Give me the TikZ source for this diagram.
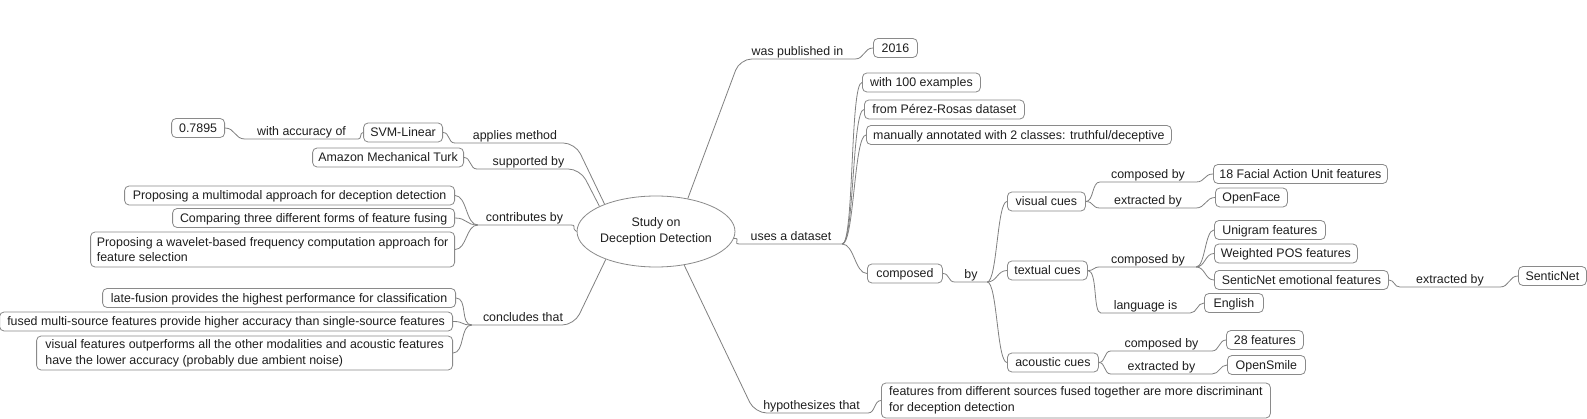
\documentclass[tikz,border=0pt]{standalone}
\usepackage{fontspec}
\setmainfont{Liberation Sans}
\usetikzlibrary{shapes.geometric}
\definecolor{linegray}{HTML}{808080}
\definecolor{boxgray}{HTML}{8A8A8A}
\definecolor{txt}{HTML}{1E1E1E}
\begin{document}
\begin{tikzpicture}[x=1pt,y=-1pt,
  font=\fontsize{12.4}{15.6}\selectfont,
  box/.style={draw=boxgray, rounded corners=4.5, fill=white, line width=0.8pt,
    inner xsep=2, inner ysep=0, minimum height=19, text height=11, text depth=2.2, text=txt},
  boxtwo/.style={draw=boxgray, rounded corners=4.5, fill=white, line width=0.8pt,
    inner xsep=2, inner ysep=0, align=left, text=txt},
  lbl/.style={inner xsep=0, inner ysep=1, text height=9, text depth=2.6, anchor=south, text=txt},
  conn/.style={draw=linegray, line width=0.8pt},
  rc/.style={conn, rounded corners=12}]
\fill[white] (0,0) rectangle (1587,419);
\useasboundingbox (0,0) rectangle (1587,419);

% centre
\node[ellipse, draw=boxgray, line width=0.8pt, minimum width=134, minimum height=71,
  inner sep=0, align=center, text=txt] (c) at (656,231.5) {Study on\\Deception Detection};

% left boxes
\node[box, anchor=east, minimum width=53] (acc) at (225,128) {0.7895};
\node[box, anchor=east, minimum width=79] (svm) at (443,132.5) {SVM-Linear};
\node[box, anchor=east, minimum width=151] (amt) at (464,157.5) {Amazon Mechanical Turk};
\node[box, anchor=east, minimum width=330] (c1) at (455,195.5) {Proposing a multimodal approach for deception detection};
\node[box, anchor=east, minimum width=282] (c2) at (455,218) {Comparing three different forms of feature fusing};
\node[boxtwo, anchor=east, minimum width=364, minimum height=35] (c3) at (455,249.5) {Proposing a wavelet-based frequency computation approach for\\feature selection};
\node[box, anchor=east, minimum width=353] (k1) at (456,298) {late-fusion provides the highest performance for classification};
\node[box, anchor=east, minimum width=453] (k2) at (453,321.5) {fused multi-source features provide higher accuracy than single-source features};
\node[boxtwo, anchor=east, minimum width=416, minimum height=34] (k3) at (453,353) {visual features outperforms all the other modalities and acoustic features\\have the lower accuracy (probably due ambient noise)};

% left labels
\node[lbl, minimum width=113] (lacc) at (301.5,139) {with accuracy of};
\node[lbl, minimum width=120] (lapp) at (515,143) {applies method};
\node[lbl, minimum width=103] (lsup) at (528.5,169) {supported by};
\node[lbl, minimum width=93] (lcon) at (524.5,225) {contributes by};
\node[lbl, minimum width=102] (lclu) at (523,325) {concludes that};

% right labels
\node[lbl, minimum width=115] (lpub) at (797.5,59) {was published in};
\node[lbl, minimum width=102] (luse) at (791,244) {uses a dataset};
\node[lbl, minimum width=113] (lhyp) at (811.5,413) {hypothesizes that};
\node[lbl, minimum width=32] (lby) at (971,282) {by};
\node[lbl, minimum width=96] (lvc) at (1148,182) {composed by};
\node[lbl, minimum width=96] (lve) at (1148,208) {extracted by};
\node[lbl, minimum width=96] (ltc) at (1148,267) {composed by};
\node[lbl, minimum width=89] (ltl) at (1145.5,313) {language is};
\node[lbl, minimum width=100] (lse) at (1450,287) {extracted by};
\node[lbl, minimum width=101] (lac) at (1161.5,351) {composed by};
\node[lbl, minimum width=101] (lae) at (1161.5,374) {extracted by};

% right boxes
\node[box, anchor=west, minimum width=44] (y16) at (873,48) {2016};
\node[box, anchor=west, minimum width=118] (d1) at (862,82.5) {with 100 examples};
\node[box, anchor=west, minimum width=160] (d2) at (864,109.5) {from Pérez-Rosas dataset};
\node[box, anchor=west, minimum width=305] (d3) at (866,135) {manually annotated with 2 classes: truthful/deceptive};
\node[box, anchor=west, minimum width=75] (comp) at (867,273.5) {composed};
\node[box, anchor=west, minimum width=78] (vis) at (1007,201.5) {visual cues};
\node[box, anchor=west, minimum width=80] (tex) at (1007,270.5) {textual cues};
\node[box, anchor=west, minimum width=91] (aco) at (1007,362.5) {acoustic cues};
\node[box, anchor=west, minimum width=174] (fau) at (1213,174) {18 Facial Action Unit features};
\node[box, anchor=west, minimum width=72] (ofc) at (1215,197.5) {OpenFace};
\node[box, anchor=west, minimum width=111] (uni) at (1214,230) {Unigram features};
\node[box, anchor=west, minimum width=143] (pos) at (1214,253.5) {Weighted POS features};
\node[box, anchor=west, minimum width=174] (sen) at (1214,280) {SenticNet emotional features};
\node[box, anchor=west, minimum width=68] (snet) at (1518,276) {SenticNet};
\node[box, anchor=west, minimum width=59] (eng) at (1204,303) {English};
\node[box, anchor=west, minimum width=77] (f28) at (1226,340) {28 features};
\node[box, anchor=west, minimum width=78] (osm) at (1227,365) {OpenSmile};
\node[boxtwo, anchor=west, minimum width=389, minimum height=35] (hyp) at (881,400.5) {features from different sources fused together are more discriminant\\for deception detection};

% left connectors
\draw[conn] (acc.east) .. controls +(10,0) and +(-10,0) .. (lacc.south west) -- (lacc.south east) .. controls +(4,0) and +(-4,0) .. (svm.west);
\draw[conn] (svm.east) .. controls +(7,0) and +(-7,0) .. (lapp.south west);
\draw[rc] (lapp.south west) -- (lapp.south east) -- (c.152);
\draw[conn] (amt.east) .. controls +(7,0) and +(-7,0) .. (lsup.south west);
\draw[rc] (lsup.south west) -- (lsup.south east) -- (c.156);
\foreach \n in {c1,c2,c3}
  \draw[conn] (\n.east) .. controls +(12,0) and +(-12,0) .. (lcon.south west);
\draw[conn] (lcon.south west) -- (lcon.south east) .. controls +(6,0) and +(-6,-4) .. (c.180);
\foreach \n in {k1,k2,k3}
  \draw[conn] (\n.east) .. controls +(12,0) and +(-12,0) .. (lclu.south west);
\draw[rc] (lclu.south west) -- (lclu.south east) -- (c.-151);

% right connectors
\draw[rc] (c.46) -- (lpub.south west) -- (lpub.south east);
\draw[conn] (lpub.south east) .. controls +(9,0) and +(-9,0) .. (y16.west);
\draw[conn] (c.-5) .. controls +(8,0) and +(-8,0) .. (luse.south west) -- (luse.south east);
\foreach \n in {d1,d2,d3,comp}
  \draw[conn] (luse.south east) .. controls +(12,0) and +(-12,0) .. (\n.west);
\draw[rc] (c.-50) -- (lhyp.south west) -- (lhyp.south east);
\draw[conn] (lhyp.south east) .. controls +(7,0) and +(-7,0) .. (hyp.west);
\draw[conn] (comp.east) .. controls +(7,0) and +(-7,0) .. (lby.south west) -- (lby.south east);
\foreach \n in {vis,tex,aco}
  \draw[conn] (lby.south east) .. controls +(10,0) and +(-10,0) .. (\n.west);
\draw[conn] (vis.east) .. controls +(8,0) and +(-8,0) .. (lvc.south west) -- (lvc.south east) .. controls +(9,0) and +(-9,0) .. (fau.west);
\draw[conn] (vis.east) .. controls +(8,0) and +(-8,0) .. (lve.south west) -- (lve.south east) .. controls +(9,0) and +(-9,0) .. (ofc.west);
\draw[conn] (tex.east) .. controls +(7,0) and +(-7,0) .. (ltc.south west) -- (ltc.south east);
\foreach \n in {uni,pos,sen}
  \draw[conn] (ltc.south east) .. controls +(9,0) and +(-9,0) .. (\n.west);
\draw[conn] (tex.east) .. controls +(10,0) and +(-8,0) .. (ltl.south west) -- (ltl.south east) .. controls +(7,0) and +(-7,0) .. (eng.west);
\draw[conn] (sen.east) .. controls +(6,0) and +(-6,0) .. (lse.south west) -- (lse.south east) .. controls +(9,0) and +(-9,0) .. (snet.west);
\draw[conn] (aco.east) .. controls +(7,0) and +(-7,0) .. (lac.south west) -- (lac.south east) .. controls +(7,0) and +(-7,0) .. (f28.west);
\draw[conn] (aco.east) .. controls +(7,0) and +(-7,0) .. (lae.south west) -- (lae.south east) .. controls +(7,0) and +(-7,0) .. (osm.west);
\end{tikzpicture}
\end{document}
